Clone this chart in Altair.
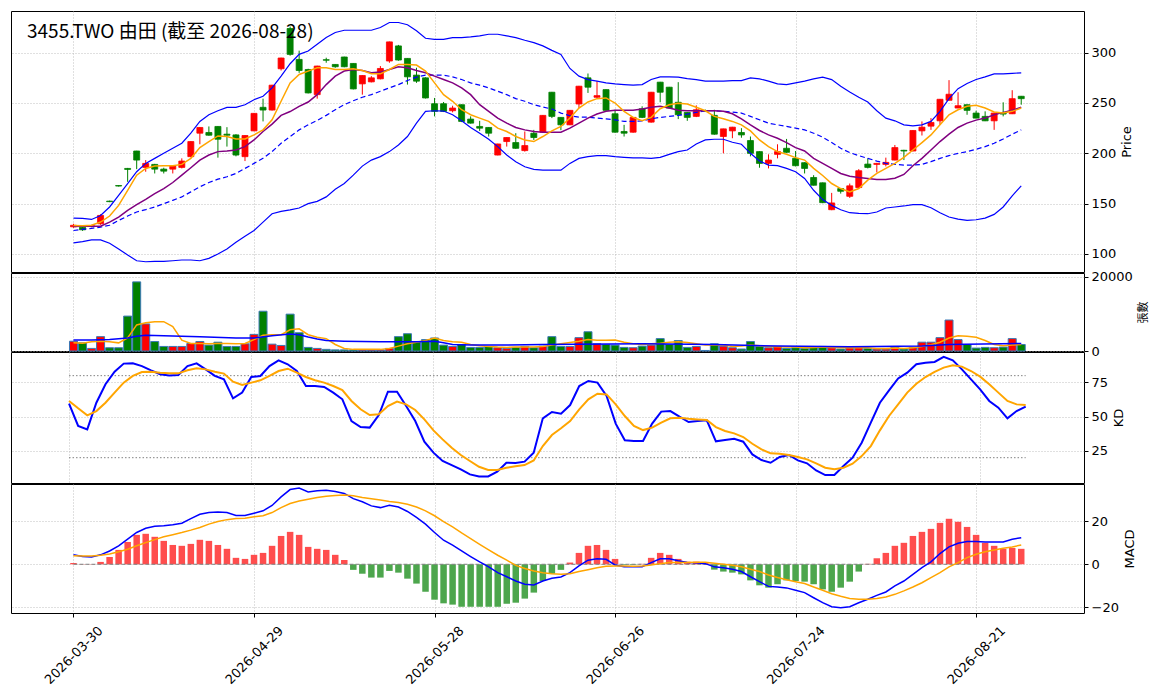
import altair as alt
import pandas as pd
import numpy as np

TITLE = "3455.TWO 由田 (截至 2026-08-28)"
tick_idx = [0, 20, 40, 60, 80, 100]
tick_labels = ["2026-03-30", "2026-04-29", "2026-05-28", "2026-06-26", "2026-07-24", "2026-08-21"]

open_ = [127,126.5,127.5,130,152.5,168,185,202.3,186,189,
         184.3,184.3,186,196.7,220,220.7,226.7,219,218.3,196.7,
         222.3,245.7,243,284,324,293.3,283.3,258.3,293,288.3,
         295.7,289.3,269,271,274,291.7,306.7,294.3,277.7,275,
         249.3,249.3,242.3,248.3,234,226.7,225.7,198.3,211.7,210.7,
         202.7,220,221,260.7,235.7,228.3,249,275,255.7,263.3,
         239.3,221.7,221,244.3,231,270.7,265.7,250.7,240.7,236.7,
         242.5,237.7,216.7,222.3,220.7,212.7,201.7,190,199,205,
         195,190.7,176,170.7,144,165,157.3,166,189.3,189,
         189,193.3,203,202.3,222.3,227,232.3,252.7,245,248.3,
         240,236.7,232.3,240,239.3,256.7]
close_ = [128.5,124,128,138.3,152,167.5,184,193.3,190,184.3,
          182.3,187.3,192.3,211.7,225.7,218,214,218,198.3,217.7,
          239.7,243,267.7,294.7,298.3,282.3,260,286.7,292.5,286,
          286,264,277.3,275,284.3,310.7,292.7,276,271.7,255,
          241.7,241.7,245,231.7,230,225,220,209.3,215.7,205,
          207.7,215.7,237.7,236.7,228.3,242.7,266.7,265.7,257.3,242.7,
          221,220,235.7,235.7,260.7,260.7,245,238.3,235.7,243.3,
          242,219,224.3,226,218.3,200,190,193.3,201.7,201,
          187.7,185,168.3,151,150.7,162.3,167.7,182.7,186,190,
          191,205.7,202.3,222.7,226,230.7,253.7,258.7,247.3,242.7,
          235,232.3,240,239,254.3,254.3]
high_ = [130,127,129,139.5,153,168.5,185.5,202.5,193.3,189.5,
         185.7,187.7,195,212,226,226.7,227,226,219,218,
         240,254.3,268,295,326,302,284,287,295,288.5,
         296,289.5,277.5,276.7,286.7,311,307.7,294.5,285,275.5,
         255,251,247.3,248.5,236.7,232.3,226,209.5,216,220,
         221.7,223.3,238,261,236,243,267,279.3,271.7,263.5,
         243.3,228.3,236,246.7,261,271,266,270.7,241,247.7,
         243.5,243.3,224.5,226.3,225,216.7,202,199,209,214.3,
         202.3,191,178.3,171,160.7,165.5,170,184.3,195,190.5,
         195.7,208.3,203.5,223,231.7,235,254,272.7,260.7,248.5,
         242.3,241.7,240.3,250.7,262.7,257]
low_ = [126,123,126.5,129,151.5,167,171.7,184.3,181.7,180,
        180,180,185,196,209,217.5,195.7,206.7,197,192.3,
        222,231.7,242.5,282.3,297,280,259.5,254.3,290,285,
        285.5,263.5,258.3,270.5,273.5,290,292,268.3,270,254.5,
        236.7,241,240.7,231,229.5,222.3,216.7,198,206.7,204.5,
        201.7,213.3,220.5,235,223,228,245,260,254.3,242.5,
        220.5,216.7,220.5,235,230.5,250.7,244.5,234,232.3,236,
        241,218.5,200,215,215.5,197,185.7,185,195,200.5,
        187,180,168,150.5,143.5,160,155.7,165.5,185,181,
        187,193,193.3,202,217.7,223.3,228.3,252.5,244.8,238.3,
        234.8,232,223.3,236.7,239,248.3]
volume = [2640,2200,700,3880,880,880,9430,18680,7310,2555,
          1230,1230,1230,2030,2555,1590,2380,1230,1230,1940,
          4490,10750,1850,1500,9960,4930,970,700,440,300,
          300,300,300,300,300,700,3880,4670,2470,3080,
          3520,1590,1230,1760,970,970,1230,880,700,970,
          1230,880,1300,3880,1230,1230,3610,5200,1940,1760,
          1590,970,880,1320,1590,3350,1760,2820,970,1230,
          150,1940,1320,880,530,2555,1230,880,1230,700,
          880,700,1060,1230,880,530,880,970,700,530,
          530,970,530,880,2380,2380,3610,8370,3080,1760,
          790,970,880,1060,3350,1760]
ma5 = [128.3,128,128.5,131.7,137.7,148.3,163.3,178.3,185,187.3,
       187.7,187.7,189,195,205.7,211.7,217.3,216.7,214.3,214.3,
       218.3,223.3,233.3,251.7,270,278.3,281.7,285,285,283.3,
       283.3,284,282.3,279,279,283.3,288.3,288.3,287.7,281.7,
       270,258.3,251.7,243.3,238.3,235,231.7,225,221.7,216.7,
       213.3,211.7,216.7,222.3,226.7,235,245,251,254.3,255,
       250,241.7,235.7,232.3,235.7,244.3,248.3,249.7,249,245.7,
       242.3,236.7,234.3,231.7,228.3,222.3,213.3,206.7,201.7,199,
       195.7,193.3,185,178,170,165,161.7,165,173.3,180,
       185,190,196,203.3,210.7,218.3,228.3,238.3,243.3,246.7,
       247.7,245,241,240,241.7,245]
ma10 = [127.3,127.5,127.5,127.5,131.7,136.7,143.3,149,154.3,160,
        165,171,178.3,185.7,193.3,198.3,201.7,202.3,203.3,206.7,
        213.3,221.7,229,237.7,241.5,246.7,251,258.3,268.3,276.7,
        281.7,283.3,282.3,280,280.7,283.3,286,285,282.3,280,
        276.7,273.3,270,265,258.3,248.3,241.7,235,230,225.7,
        223.3,221.7,221,221,221,225,230,235,239,241.7,
        242.7,242.7,242.7,244,245.7,246.7,245,242.7,242.3,242.3,
        242.3,242.3,241.7,239.3,234.3,228.3,222.7,218.3,215,210.7,
        205.7,202.3,195,190,185,180,177.3,176,175,174,
        174,175.3,179,187.7,195,203.3,211.7,219,225.7,230,
        233,235,238.3,240.7,242.7,245.7]
bb_mid = [123.3,124.5,125.5,126.7,128.5,133.3,137.7,141.7,144,146.7,
          150,153.3,156.7,161.7,166.7,171,174.3,176.7,180,185,
          190,195,201.7,210,216.7,223.3,228.3,232.7,237.7,243.3,
          248.3,252.3,255.7,258.3,261.7,265,268.3,272.3,275.7,277.7,
          277.7,277.7,276,273.3,270,267.7,265,261.7,258.3,254.3,
          251.7,248.3,246,244,240,237.3,236,236,235,234.3,
          233.3,231.7,231.7,232.3,234.3,235.7,236.7,237.7,239,240.7,
          242.3,242.3,241.7,241,240,236.7,233.3,230,228.3,226.7,
          225,223.3,220,216,210.7,205,200.7,197.7,195,192.3,
          190,189,188.3,188.3,189,191.7,195,197.7,200,201.7,
          204,206.7,210,214.3,219,223.3]
bb_up = [135.7,135.3,134.3,138.3,146.7,158.3,170,181.7,190,195,
         200,205,210,220,231.7,238.3,242.3,245.7,245.7,248.3,
         253.3,256.7,265,276.7,289,298.3,301.7,308.3,315,320,
         322.3,322.3,322.3,322.3,325,330,330,327.7,321.7,314.3,
         313.3,313.3,315,315,315.7,316.7,318.3,318.3,316.7,315,
         312.3,310,306.7,302.3,298.3,284.3,276.7,273.3,271.7,270,
         269,268.3,267.7,268.3,273.3,276,276,275.7,274.3,273.3,
         271.7,271.7,271.7,272.3,272.3,275,274,271.7,269,268.3,
         270,271.7,274,275.7,273.3,266.7,261,255.7,251,242.3,
         235,232.3,228.3,227.3,228.3,231.7,241.7,254.3,264.3,269.3,
         273.3,276,279,279,279.5,280]
bb_lo = [111,112.3,114,114,110.7,105,99,93.3,92.3,92.7,
         92.7,93.3,94,94,93.3,95.7,100,105,111.7,117.7,
         123.3,131.7,140,142.3,143.8,145.7,150,152.3,156.7,164.3,
         170,178.3,187.3,193.3,196.7,201.7,208.3,216.7,230,241.7,
         242.3,242,238.3,232.3,225.7,220,214,206.7,198.3,191.7,
         186.7,184,183.3,183.3,183.3,190,195,196.7,197.7,197.7,
         196.7,196,195.5,195.5,195,196,199,201.7,203.3,209.3,
         213.3,214,214,211,209,200,192.3,188.3,187.7,185,
         181.7,175,163.3,154,148.3,144,141,140.3,140,141.7,
         145.7,146.7,147.7,149,149,146,141,136.7,134.7,133.3,
         134,135.7,139.3,146.7,157.7,167.7]
vol_ma5 = [2200,2115,2470,2640,2470,2200,3520,7050,7660,7930,
           7930,6610,2910,2030,2030,1940,2030,2030,1940,2030,
           3080,4230,4400,4400,5730,6000,4400,3700,3350,1760,
           700,440,440,440,440,700,1320,1940,2380,2820,
           3520,2820,2470,2380,1760,1410,1230,1060,970,1060,
           1060,1060,1230,1590,1940,2290,2640,3080,2910,2910,
           3000,2380,1940,1760,1940,2115,2380,2470,2290,1940,
           1590,1590,1590,1230,1320,1590,1410,1230,1150,1060,
           1060,880,970,1060,970,880,880,880,880,700,
           700,790,700,880,1230,1670,2380,3520,4140,3960,
           3700,2820,1760,1410,1590,1760]
vma20_idx = [0,2,4,6,7,8,10,14,18,20,22,24,25,26,27,28,30,34,38,40,41,42,44,48,52,63,71,78,86,94,97,105]
vma20_val = [3000,3000,3080,3520,3960,4230,4140,3880,3520,3520,4140,4580,4400,3790,3260,2820,2640,2470,2470,2640,2200,1760,1590,1590,1760,1940,1760,1320,1150,1320,1760,2030]
k_vals = [59.5,43.2,40.7,60.2,73.7,82.9,88.8,89,87,83.9,
          81,80.2,80.5,87,89,84.6,79.8,77.3,63.4,67.6,
          79,79.8,87,91.2,88.3,83.4,72.4,72.4,71.7,67.6,
          62.7,46.8,42.4,42,51.2,68.3,68.3,57.8,46.8,31.7,
          23.7,17.6,14.6,11.5,7.8,6.3,6.3,9.8,16.3,16.1,
          17.1,23.7,48.8,53.4,52.2,58.5,72.4,76.1,74.9,65.1,
          44.9,32.7,32.2,32.2,44.9,53.7,54.1,50,46.1,46.8,
          47.3,32,32.9,33.9,31.7,22.4,18.3,16.3,20.5,22,
          18,15.9,10.7,7.3,7.3,13.9,20,31,45.6,60.2,
          69.3,78,82.2,88.3,89.5,90,93.7,91.2,84.6,77.3,
          70,61.5,56.6,48.8,54.1,57.3]
d_vals = [61.5,56.1,51,54.1,60.2,67.6,74.9,79.8,82.7,82.9,
          82.2,81.7,81.7,83.9,85.4,84.6,82.9,81.5,75.6,73.2,
          74.9,76.6,79.8,83.4,85.1,82.2,79,76.6,74.9,72.4,
          69.5,61.5,55.4,51.2,51.7,57.8,61,59,54.9,48,
          40,33.4,27.3,22,17.6,13.4,11,11,12.7,13.7,
          14.6,18,28.5,36.6,41.5,46.8,55.4,62.7,66.8,66.3,
          59,50.5,43.2,40.2,42,45.6,48.8,49.3,48.5,48,
          47.6,42.4,39.5,37.8,35.1,30.2,26.1,23.2,22.9,22,
          20.5,18.8,15.9,12.7,11.5,12.7,15.6,21.2,28.5,40,
          50.5,59,67.6,74.1,79,82.7,85.9,87.6,86.6,83.4,
          79.3,73.7,67.6,61.5,59,58.5]
dif = [4.4,3.6,3.4,4.4,6.2,8.6,11.7,14.8,16.8,17.7,
       18,18.4,19.1,21.3,23.3,24.1,24.3,24.1,22.7,22.7,
       23.8,24.9,27.4,31.4,34.8,35.5,33.7,34.2,34.5,33.9,
       33,30.6,29.1,27.2,26.4,27.5,26.7,24.6,21.8,18.7,
       14.8,11.2,8.9,6.2,3.6,1.1,-1.2,-3.9,-5.8,-7.8,
       -9.3,-9.6,-7.8,-6.5,-5.9,-3.9,-0.8,1.9,2.6,2.3,
       -0.3,-1.2,-1.2,-1.2,0.8,2.6,2.6,1.6,0.8,0.7,
       0.3,-1.2,-1.6,-2.3,-3.4,-5.8,-8.1,-10.3,-10.6,-11,
       -12.1,-13.2,-15.6,-17.9,-19.8,-20.2,-19.8,-17.9,-16.3,-14.5,
       -12.9,-10.1,-7.8,-4.7,-1.6,1.1,5,8.1,9.8,10.6,
       10.6,10.4,10.4,10.4,11.7,12.4]
dea = [4,3.9,3.9,4.2,4.8,5.8,7,8.6,10.1,11.5,
       12.8,13.8,14.8,15.9,17.1,18.7,19.9,20.8,21.3,21.5,
       22.1,22.6,24.1,26.4,28.3,29.5,30.3,31.1,31.7,32,
       32.3,31.9,31.1,30.5,29.9,29.2,28.8,28,26.7,24.9,
       22.6,19.9,17.4,14.6,12,9.3,6.7,4.2,1.9,-0.5,
       -2,-3.1,-3.9,-4.4,-4.7,-4.4,-3.4,-2.5,-1.6,-0.9,
       -0.8,-0.8,-0.9,-0.8,-0.3,0.3,0.8,0.8,0.8,0.9,
       0.9,0.5,0,-0.5,-1.2,-2.3,-3.4,-5,-6.2,-7.2,
       -8.1,-9,-10.6,-12.1,-13.7,-14.9,-15.9,-16.3,-16.3,-15.9,
       -15.2,-14,-12.4,-10.6,-8.6,-6.2,-3.9,-1.2,0.8,3.1,
       4.7,5.8,6.7,7.5,8.1,9]
hist = [0.6,0.1,0.1,1.1,3.4,6.7,10.4,13.7,14.2,12.8,
        10.9,9,8.6,9.5,11.4,10.9,9,7.2,3,2.5,
        4.4,5.3,8.6,13.2,15.1,13.7,8.1,7.2,6.7,4.4,
        2,-2.6,-4.4,-6.2,-6.2,-3.1,-3.9,-6.7,-9,-12.8,
        -16.5,-18.2,-18.8,-19.8,-19.8,-19.8,-19.8,-19.8,-18.4,-17.9,
        -16,-13.2,-7.8,-4.4,-2.6,0.8,5.3,8.6,9,6.7,
        2.5,-0.3,-0.3,0.2,3,5.3,4.4,2.5,1.2,1.2,
        0.9,-2.5,-3.4,-3.9,-4.7,-7.5,-9.8,-10.9,-9.3,-7.5,
        -7.8,-8.1,-9.3,-11.7,-12.8,-10.9,-8.1,-3.4,0.2,2.8,
        5.3,8.6,10,13.2,15.1,16.5,19.3,21.2,19.8,17.4,
        13.7,10,8.6,7.2,7.6,7.2]

n = len(close_)
df = pd.DataFrame({
    "i": list(range(n)), "open": open_, "high": high_, "low": low_, "close": close_,
    "vol": volume, "ma5": ma5, "ma10": ma10, "mid": bb_mid, "up": bb_up, "lo": bb_lo,
    "vma5": vol_ma5, "k": k_vals, "d": d_vals, "dif": dif, "dea": dea, "hist": hist,
})
df["ccol"] = np.where(df["close"] >= df["open"], "#ff0000", "#008000")
df["blo"] = df[["open", "close"]].min(axis=1)
df["bhi"] = df[["open", "close"]].max(axis=1)
df["hcol"] = np.where(df["hist"] >= 0, "#ff4d4d", "#4da64d")
vdf = pd.DataFrame({"i": vma20_idx, "v": vma20_val})

W = 1073
XS = alt.Scale(domain=[-6.37, 111.4], nice=False, zero=False)
label_expr = " : ".join(f"datum.value == {i} ? '{l}'" for i, l in zip(tick_idx, tick_labels)) + " : ''"

XAX_TOP = alt.Axis(values=tick_idx, labels=False, ticks=False, domain=False, grid=True, title=None)
XAX_BOT = alt.Axis(values=tick_idx, labelExpr=label_expr, labelAngle=-45, labelAlign="center",
                   labelBaseline="middle", labelPadding=38, tickSize=4, grid=True, title=None,
                   domain=False, labelFontSize=13)


def yax(values, title, **kw):
    return alt.Axis(orient="right", values=values, title=title, tickSize=4, labelPadding=3,
                    titleAngle=270, titleBaseline="top", titlePadding=5, grid=True, format="d", **kw)


class Panel:
    def __init__(self, ys, yaxis, xaxis):
        self.ys, self.yaxis, self.xaxis = ys, yaxis, xaxis

    def x(self, field="i"):
        return alt.X(f"{field}:Q", scale=XS, axis=self.xaxis)

    def y(self, field):
        return alt.Y(f"{field}:Q", scale=self.ys, axis=self.yaxis)

    def line(self, data, field, color, width, dash=None):
        m = dict(color=color, strokeWidth=width)
        if dash:
            m["strokeDash"] = dash
        return alt.Chart(data).mark_line(**m).encode(x=self.x(), y=self.y(field))


# ---- price panel
P = Panel(alt.Scale(domain=[82.1, 341.4], nice=False, zero=False),
          yax([100, 150, 200, 250, 300], "Price"), XAX_TOP)
wick = alt.Chart(df).mark_rule(strokeWidth=1).encode(
    x=P.x(), y=P.y("low"), y2="high:Q", color=alt.Color("ccol:N", scale=None))
body = alt.Chart(df).mark_bar(size=6, strokeWidth=0.8).encode(
    x=P.x(), y=P.y("blo"), y2="bhi:Q",
    color=alt.Color("ccol:N", scale=None), stroke=alt.Stroke("ccol:N", scale=None))
title_df = pd.DataFrame({"t": [TITLE]})
title = alt.Chart(title_df).mark_text(align="left", baseline="alphabetic", fontSize=19,
                                      font="Noto Sans CJK TC", color="black").encode(
    x=alt.value(16), y=alt.value(27), text="t:N")
price = alt.layer(
    wick, body,
    P.line(df, "up", "#0000ff", 1.2),
    P.line(df, "lo", "#0000ff", 1.2),
    P.line(df, "mid", "#0000ff", 1.2, dash=[5, 3]),
    P.line(df, "ma10", "#800080", 1.5),
    P.line(df, "ma5", "#ffa500", 1.5),
    title,
).properties(width=W, height=261)

# ---- volume panel
V = Panel(alt.Scale(domain=[0, 21080], nice=False, zero=False),
          yax([0, 20000], "張數", titleFont="Noto Sans CJK TC", titleFontSize=11), XAX_TOP)
vbars = alt.Chart(df).mark_bar(size=8, stroke="#3a78b5", strokeWidth=1).encode(
    x=V.x(), y=V.y("vol"), color=alt.Color("ccol:N", scale=None))
vol = alt.layer(
    vbars,
    V.line(df, "vma5", "#ffa500", 1.5),
    V.line(vdf, "v", "#0000ff", 1.5),
).properties(width=W, height=78)

# ---- KD panel
K = Panel(alt.Scale(domain=[1.5, 97.3], nice=False, zero=False), yax([25, 50, 75], "KD"), XAX_TOP)
ref_df = pd.DataFrame({"y": [20, 80], "x0": [0, 0], "x1": [105, 105]})
kref = alt.Chart(ref_df).mark_rule(color="#808080", strokeWidth=1, strokeDash=[1.5, 2]).encode(
    x=K.x("x0"), x2="x1:Q", y=K.y("y"))
kd = alt.layer(
    kref,
    K.line(df, "k", "#0000ff", 2),
    K.line(df, "d", "#ffa500", 2),
).properties(width=W, height=131)

# ---- MACD panel
M = Panel(alt.Scale(domain=[-22.7, 37.4], nice=False, zero=False), yax([-20, 0, 20], "MACD"), XAX_BOT)
zero_df = pd.DataFrame({"y": [0], "x0": [0], "x1": [105]})
hbars = alt.Chart(df).mark_bar(size=6.5).encode(
    x=M.x(), y=M.y("hist"), y2=alt.datum(0), color=alt.Color("hcol:N", scale=None))
zline = alt.Chart(zero_df).mark_rule(color="#808080", strokeWidth=1, strokeDash=[4, 2]).encode(
    x=M.x("x0"), x2="x1:Q", y=M.y("y"))
macd = alt.layer(
    hbars, zline,
    M.line(df, "dif", "#0000ff", 1.5),
    M.line(df, "dea", "#ffa500", 1.5),
).properties(width=W, height=129)

chart = alt.vconcat(price, vol, kd, macd, spacing=1, bounds="flush").properties(
    padding={"left": 2, "top": 2, "right": 5, "bottom": 5}
).configure_view(stroke="black", strokeWidth=1).configure_axis(
    labelFont="DejaVu Sans", labelFontSize=13, labelColor="black",
    titleFont="DejaVu Sans", titleFontSize=13, titleFontWeight="normal", titleColor="black",
    tickColor="black", gridColor="#b0b0b0", gridDash=[1, 2], gridWidth=0.8, domain=False,
).configure_concat(spacing=1)

chart.save("out.html", embed_options={"renderer": "svg", "actions": False})
